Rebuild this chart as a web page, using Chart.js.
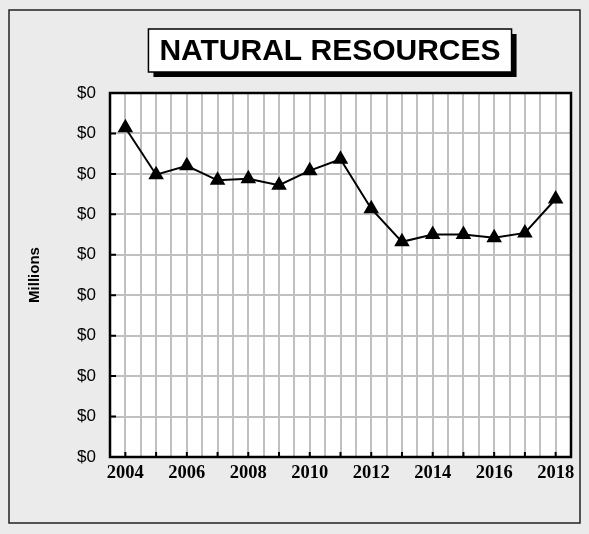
<!DOCTYPE html>
<html>
<head>
<meta charset="utf-8">
<script src="https://cdn.jsdelivr.net/npm/chart.js@4"></script>
<style>
  html, body { margin: 0; padding: 0; background: #ebebeb; }
  #wrap { width: 589px; height: 534px; position: relative; }
</style>
</head>
<body>
<div id="wrap"><canvas id="chart" width="589" height="534"></canvas></div>
<script>
const chartTitle = "NATURAL RESOURCES";
const axisTitle = "Millions";
const years = [2004, 2005, 2006, 2007, 2008, 2009, 2010, 2011, 2012, 2013, 2014, 2015, 2016, 2017, 2018];
// values in $ millions
const values = [0.407, 0.349, 0.360, 0.342, 0.344, 0.336, 0.354, 0.368, 0.307, 0.266, 0.275, 0.275, 0.271, 0.277, 0.319];
const yMin = 0, yMax = 0.45, yStep = 0.05;
const xMin = 2003.5, xMax = 2018.5, xStep = 0.5;

// grey page, outer frame, white plot, black plot frame and inward ticks
const framePlugin = {
  id: "frame",
  beforeDraw(chart) {
    const { ctx, chartArea: a } = chart;
    ctx.save();
    ctx.fillStyle = "#ebebeb";
    ctx.fillRect(0, 0, chart.width, chart.height);
    ctx.strokeStyle = "#222";
    ctx.lineWidth = 1.5;
    ctx.strokeRect(9, 10, 571, 513);
    ctx.fillStyle = "#fff";
    ctx.fillRect(a.left, a.top, a.right - a.left, a.bottom - a.top);
    ctx.restore();
  },
  afterDraw(chart) {
    const { ctx, chartArea: a, scales } = chart;
    ctx.save();
    ctx.strokeStyle = "#000";
    ctx.lineWidth = 2.5;
    ctx.strokeRect(a.left, a.top, a.right - a.left, a.bottom - a.top);
    ctx.lineWidth = 2;
    ctx.beginPath();
    scales.y.ticks.forEach((t) => {
      const y = scales.y.getPixelForValue(t.value);
      ctx.moveTo(a.left, y);
      ctx.lineTo(a.left + 6, y);
    });
    years.forEach((yr) => {
      const x = scales.x.getPixelForValue(yr);
      ctx.moveTo(x, a.bottom);
      ctx.lineTo(x, a.bottom - 5);
    });
    ctx.stroke();

    // boxed title with shadow
    ctx.font = "bold 30px 'Liberation Sans', Arial, sans-serif";
    const w = ctx.measureText(chartTitle).width;
    const cx = 330;
    const bw = w + 22, bh = 43;
    const bx = cx - bw / 2, by = 29;
    ctx.fillStyle = "#000";
    ctx.fillRect(bx + 5, by + 5, bw, bh);
    ctx.fillStyle = "#fff";
    ctx.fillRect(bx, by, bw, bh);
    ctx.lineWidth = 1.5;
    ctx.strokeRect(bx, by, bw, bh);
    ctx.fillStyle = "#000";
    ctx.textAlign = "center";
    ctx.textBaseline = "middle";
    ctx.fillText(chartTitle, cx, by + bh / 2 + 1);
    ctx.restore();
  },
};

new Chart(document.getElementById("chart"), {
  type: "line",
  data: {
    datasets: [
      {
        data: years.map((yr, i) => ({ x: yr, y: values[i] })),
        borderColor: "#000",
        borderWidth: 2,
        backgroundColor: "#000",
        pointStyle: "triangle",
        pointRadius: 7,
        pointBackgroundColor: "#000",
        pointBorderColor: "#000",
        tension: 0,
      },
    ],
  },
  options: {
    responsive: false,
    animation: false,
    layout: { padding: { left: 0, top: 93, right: 18, bottom: 0 } },
    plugins: { legend: { display: false }, tooltip: { enabled: false } },
    scales: {
      x: {
        type: "linear",
        min: xMin,
        max: xMax,
        afterFit: (s) => { s.height = 77; },
        grid: { color: "#c0c0c0", lineWidth: 2, drawTicks: false },
        border: { display: false },
        ticks: {
          stepSize: xStep,
          autoSkip: false,
          maxRotation: 0,
          padding: 5,
          color: "#000",
          font: { family: "'Liberation Serif', 'Times New Roman', serif", size: 18.5, weight: "bold" },
          callback: (v) => (Number.isInteger(v) && v % 2 === 0 ? String(v) : ""),
        },
      },
      y: {
        min: yMin,
        max: yMax,
        afterFit: (s) => { s.width = 110; },
        grid: { color: "#c0c0c0", lineWidth: 2, drawTicks: false },
        border: { display: false },
        title: {
          display: true,
          text: axisTitle,
          color: "#000",
          padding: { top: 26 },
          font: { family: "'Liberation Sans', Arial, sans-serif", size: 15, weight: "bold" },
        },
        ticks: {
          stepSize: yStep,
          padding: 14,
          color: "#000",
          font: { family: "'Liberation Sans', Arial, sans-serif", size: 17 },
          callback: (v) => "$" + Math.round(v),
        },
      },
    },
  },
  plugins: [framePlugin],
});
</script>
</body>
</html>
